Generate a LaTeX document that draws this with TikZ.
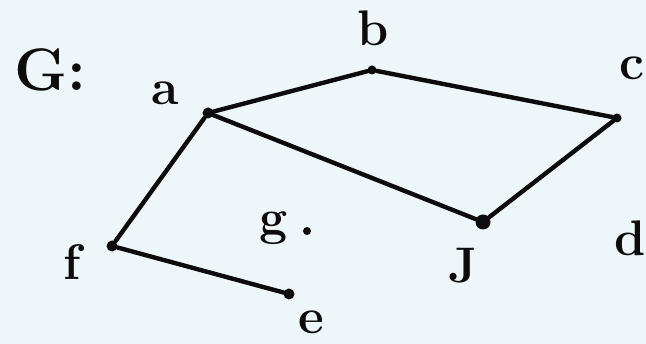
\documentclass[tikz,border=0pt]{standalone}
\definecolor{bg}{RGB}{238,246,249}
\definecolor{ink}{RGB}{12,12,12}
\begin{document}
\begin{tikzpicture}[x=1pt,y=-1pt,
  vert/.style={circle,fill=ink,inner sep=0pt,minimum size=#1},
  vert/.default=11pt,
  edge/.style={draw=ink,line width=4.4pt,line cap=round},
  lbl/.style={text=ink,inner sep=0pt,font=\fontsize{50}{54}\selectfont\bfseries}]
\fill[bg] (0,0) rectangle (646,344);
\useasboundingbox (0,0) rectangle (646,344);
\node[vert] (a) at (208,113) {};
\node[vert=9pt] (b) at (372,70) {};
\node[vert=9pt] (c) at (617,118) {};
\node[vert=15pt] (d) at (483,222) {};
\node[vert] (f) at (112,246) {};
\node[vert] (e) at (289,294) {};
\node[vert=8pt] (gd) at (307,231) {};
\draw[edge] (a) -- (b);
\draw[edge] (b) -- (c);
\draw[edge] (a) -- (d);
\draw[edge] (c) -- (d);
\draw[edge] (a) -- (f);
\draw[edge] (f) -- (e);
\node[lbl,font=\fontsize{60}{64}\selectfont\bfseries] (G) at (50,70) {G:};
\node[lbl] (la) at (165,93) {a};
\node[lbl] (lb) at (373,28) {b};
\node[lbl] (lc) at (632,68) {c};
\node[lbl] (lJ) at (463,266) {J};
\node[lbl] (ld) at (630,238) {d};
\node[lbl] (lf) at (72,262) {f};
\node[lbl] (le) at (311,322) {e};
\node[lbl] (lg) at (274,228) {g};
\end{tikzpicture}
\end{document}
